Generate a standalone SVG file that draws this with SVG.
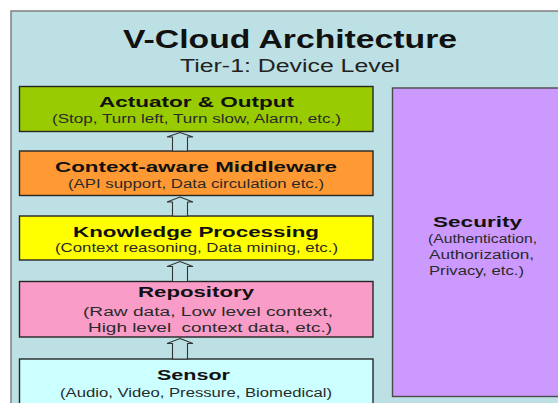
<svg xmlns="http://www.w3.org/2000/svg" width="558" height="403" viewBox="0 0 558 403">
<style>
.box{stroke:#262626;stroke-width:1.4}
.t{font-family:"Liberation Sans",Arial,sans-serif;font-weight:bold;font-size:15.5px;fill:#111;text-anchor:middle}
.s{font-family:"Liberation Sans",Arial,sans-serif;font-size:12.5px;fill:#2a2a2a;text-anchor:middle}
.arrow{fill:#bde0e4;stroke:#333;stroke-width:1.1;stroke-linejoin:miter}
</style>
<rect x="0" y="0" width="558" height="403" fill="#ffffff"/>
<g id="frame">
<rect x="11" y="11" width="560" height="400" fill="#bde0e4" stroke="#808080" stroke-width="1.5"/>
<text x="290" y="47.5" font-family="Liberation Sans, Arial, sans-serif" font-weight="bold" font-size="25" fill="#111" text-anchor="middle" textLength="334" lengthAdjust="spacingAndGlyphs">V-Cloud Architecture</text>
<text x="290" y="72.3" font-family="Liberation Sans, Arial, sans-serif" font-size="18" fill="#222" text-anchor="middle" textLength="220" lengthAdjust="spacingAndGlyphs">Tier-1: Device Level</text>
</g>
<g id="actuator">
<rect class="box" x="19.5" y="86.5" width="353.5" height="45" fill="#99cc00"/>
<text class="t" x="196.5" y="107" textLength="195" lengthAdjust="spacingAndGlyphs">Actuator &amp; Output</text>
<text class="s" x="196.5" y="123" textLength="289" lengthAdjust="spacingAndGlyphs">(Stop, Turn left, Turn slow, Alarm, etc.)</text>
</g>
<g id="middleware">
<rect class="box" x="19.5" y="151" width="353.5" height="44.5" fill="#ff9933"/>
<text class="t" x="196" y="171.7" textLength="282" lengthAdjust="spacingAndGlyphs">Context-aware Middleware</text>
<text class="s" x="196" y="188" textLength="256" lengthAdjust="spacingAndGlyphs">(API support, Data circulation etc.)</text>
</g>
<g id="knowledge">
<rect class="box" x="19.5" y="216" width="353.5" height="44" fill="#ffff00"/>
<text class="t" x="196" y="237.3" textLength="246" lengthAdjust="spacingAndGlyphs">Knowledge Processing</text>
<text class="s" x="196.5" y="252" textLength="283" lengthAdjust="spacingAndGlyphs">(Context reasoning, Data mining, etc.)</text>
</g>
<g id="repository">
<rect class="box" x="19.5" y="281.5" width="353.5" height="55.5" fill="#f99cc8"/>
<text class="t" x="196" y="297.3" textLength="116" lengthAdjust="spacingAndGlyphs">Repository</text>
<text class="s" x="208" y="316" textLength="250" lengthAdjust="spacingAndGlyphs">(Raw data, Low level context,</text>
<text class="s" x="210" y="331.7" textLength="244" lengthAdjust="spacingAndGlyphs" xml:space="preserve">High level  context data, etc.)</text>
</g>
<g id="sensor">
<rect class="box" x="19.5" y="359" width="353.5" height="60" fill="#ccffff"/>
<text class="t" x="193.5" y="380" textLength="73" lengthAdjust="spacingAndGlyphs">Sensor</text>
<text class="s" x="196" y="396.7" textLength="272" lengthAdjust="spacingAndGlyphs">(Audio, Video, Pressure, Biomedical)</text>
</g>
<g id="security">
<rect x="392.5" y="88" width="180" height="308.5" fill="#cc99ff" stroke="#4a4a4a" stroke-width="1.4"/>
<text class="t" x="477.5" y="226.7" textLength="89" lengthAdjust="spacingAndGlyphs">Security</text>
<text class="s" x="482.5" y="243" textLength="109" lengthAdjust="spacingAndGlyphs">(Authentication,</text>
<text class="s" x="481.5" y="259" textLength="105" lengthAdjust="spacingAndGlyphs">Authorization,</text>
<text class="s" x="476.5" y="275" textLength="95" lengthAdjust="spacingAndGlyphs">Privacy, etc.)</text>
</g>
<g id="connectors">
<path class="arrow" d="M180,132.5 L193,137 L187.5,137 L187.5,151 L172.5,151 L172.5,137 L167,137 Z"/>
<path class="arrow" d="M180,197 L193,202 L187.5,202 L187.5,216 L172.5,216 L172.5,202 L167,202 Z"/>
<path class="arrow" d="M180,261.5 L193,266.5 L187.5,266.5 L187.5,281.5 L172.5,281.5 L172.5,266.5 L167,266.5 Z"/>
<path class="arrow" d="M180,338.5 L193,343.5 L187.5,343.5 L187.5,359 L172.5,359 L172.5,343.5 L167,343.5 Z"/>
</g>
</svg>
